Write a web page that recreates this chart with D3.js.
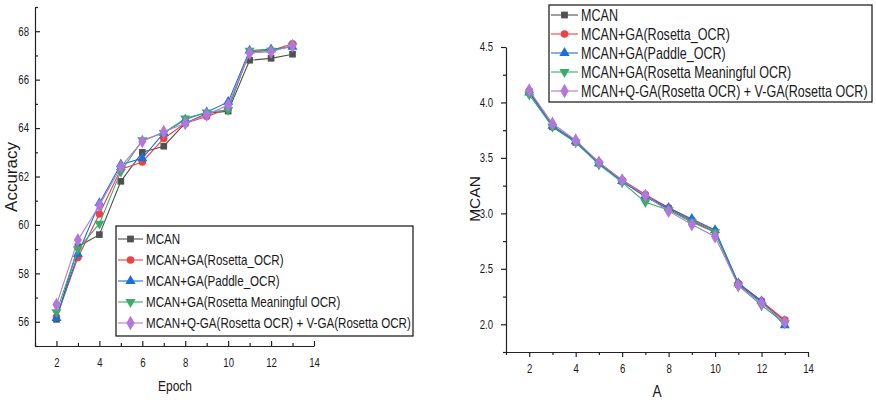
<!DOCTYPE html>
<html>
<head>
<meta charset="utf-8">
<script src="https://cdn.jsdelivr.net/npm/d3@7"></script>
<style>
  body { margin: 0; background: #fff; }
  svg text { fill: #1a1a1a; font-family: "Liberation Sans", Arial, sans-serif; }
</style>
</head>
<body>
<svg id="chart" width="876" height="400"></svg>
<script>
// epochs on the x axis (both panels)
var epochs = [2, 3, 4, 5, 6, 7, 8, 9, 10, 11, 12, 13];

var seriesNames = ["MCAN", "MCAN+GA(Rosetta_OCR)", "MCAN+GA(Paddle_OCR)",
  "MCAN+GA(Rosetta Meaningful OCR)", "MCAN+Q-GA(Rosetta OCR) + V-GA(Rosetta OCR)"];

// left panel: accuracy
var accMcan      = [56.1, 59.1, 59.6, 61.8, 63.0, 63.25, 64.2, 64.6, 64.7, 66.8, 66.88, 67.05];
var accRosetta   = [56.2, 58.65, 60.45, 62.3, 62.6, 63.57, 64.2, 64.48, 64.8, 67.15, 67.2, 67.48];
var accPaddle    = [56.15, 58.8, 60.9, 62.5, 62.75, 63.8, 64.35, 64.65, 65.08, 67.2, 67.25, 67.35];
var accMeaning   = [56.4, 59.0, 60.05, 62.2, 63.5, 63.8, 64.4, 64.65, 64.75, 67.2, 67.2, 67.4];
var accQV        = [56.7, 59.38, 60.8, 62.4, 63.45, 63.85, 64.2, 64.55, 64.95, 67.1, 67.15, 67.4];

// right panel: MCAN loss
var lossMcan     = [4.10, 3.78, 3.64, 3.45, 3.29, 3.15, 3.04, 2.93, 2.83, 2.36, 2.20, 2.03];
var lossRosetta  = [4.10, 3.79, 3.65, 3.46, 3.30, 3.17, 3.05, 2.94, 2.84, 2.37, 2.21, 2.04];
var lossPaddle   = [4.09, 3.79, 3.65, 3.45, 3.29, 3.16, 3.05, 2.95, 2.85, 2.37, 2.21, 1.99];
var lossMeaning  = [4.07, 3.78, 3.64, 3.44, 3.28, 3.10, 3.03, 2.92, 2.83, 2.35, 2.17, 2.01];
var lossQV       = [4.11, 3.81, 3.66, 3.46, 3.30, 3.16, 3.02, 2.90, 2.79, 2.35, 2.19, 2.02];

var xTicks = [2, 4, 6, 8, 10, 12, 14];
var xMinor = [1, 3, 5, 7, 9, 11, 13];
var accTicks = [56, 58, 60, 62, 64, 66, 68];
var accMinor = [55, 57, 59, 61, 63, 65, 67, 69];
var lossTicks = [2.0, 2.5, 3.0, 3.5, 4.0, 4.5];
var lossMinor = [1.75, 2.25, 2.75, 3.25, 3.75, 4.25];

var colors = ["#515151", "#F14040", "#1A6FDF", "#37AD6B", "#B177DE"];
var symbols = [d3.symbolSquare, d3.symbolCircle, d3.symbolTriangle, d3.symbolTriangle, d3.symbolDiamond];
var rotations = [0, 0, 0, 180, 0];

// the figure is squeezed sideways, so horizontal text is drawn condensed
var squeeze = 0.8;

var svg = d3.select("#chart");

function drawPanel(opt) {
  var x = d3.scaleLinear().domain([1, 14]).range([opt.left, opt.right]);
  var y = d3.scaleLinear().domain(opt.yDomain).range([opt.bottom, opt.top]);
  var g = svg.append("g");
  var tickIn = opt.inward ? -5 : 5;
  var minorIn = opt.inward ? -3 : 3;

  // axes
  g.append("g").attr("transform", "translate(0," + opt.bottom + ")")
    .call(d3.axisBottom(x).tickValues(xTicks).tickSizeInner(tickIn).tickSizeOuter(0)
      .tickPadding(opt.inward ? 12 : 7).tickFormat(d3.format("d")));
  g.append("g").attr("transform", "translate(0," + opt.bottom + ")")
    .call(d3.axisBottom(x).tickValues(xMinor).tickSizeInner(minorIn).tickSizeOuter(0).tickFormat(""))
    .select(".domain").remove();
  g.append("g").attr("transform", "translate(" + opt.left + ",0)")
    .call(d3.axisLeft(y).tickValues(opt.yTicks).tickSizeInner(tickIn).tickSizeOuter(0)
      .tickPadding(opt.inward ? 6 : 8).tickFormat(opt.yFormat));
  g.append("g").attr("transform", "translate(" + opt.left + ",0)")
    .call(d3.axisLeft(y).tickValues(opt.yMinor).tickSizeInner(minorIn).tickSizeOuter(0).tickFormat(""))
    .select(".domain").remove();
  g.selectAll(".domain, .tick line").attr("stroke", "#222").attr("stroke-width", 1.2);
  g.selectAll(".tick text")
    .attr("font-family", "Liberation Sans, Arial, sans-serif")
    .attr("font-size", opt.tickFont).attr("fill", "#1a1a1a")
    .each(function() {
      // condense around the tick's own anchor point
      var t = d3.select(this);
      var tx = +t.attr("x") || 0;
      t.attr("x", tx / squeeze).attr("transform", "scale(" + squeeze + ",1)");
    });

  // axis titles
  g.append("text")
    .attr("transform", "translate(" + opt.xTitle[0] + "," + opt.xTitle[1] + ") scale(" + squeeze + ",1)")
    .attr("text-anchor", "middle").attr("font-size", opt.xTitleFont).text(opt.xLabel);
  g.append("text")
    .attr("transform", "translate(" + opt.yTitle[0] + "," + opt.yTitle[1] + ") rotate(-90)")
    .attr("text-anchor", "middle").attr("font-size", opt.yTitleFont).text(opt.yLabel);

  // series
  var line = d3.line().x(function(d) { return x(d[0]); }).y(function(d) { return y(d[1]); });
  opt.series.forEach(function(vals, i) {
    var pts = epochs.map(function(e, j) { return [e, vals[j]]; });
    g.append("path").datum(pts).attr("d", line)
      .attr("fill", "none").attr("stroke", colors[i]).attr("stroke-width", 1.1);
    g.selectAll(".m" + i).data(pts).enter().append("path")
      .attr("d", d3.symbol().type(symbols[i]).size(i === 4 ? 56 : 44))
      .attr("transform", function(d) {
        return "translate(" + x(d[0]) + "," + y(d[1]) + ") rotate(" + rotations[i] + ")";
      })
      .attr("fill", colors[i]);
  });

  // legend
  var L = opt.legend;
  var lg = g.append("g");
  lg.append("rect").attr("x", L.x).attr("y", L.y).attr("width", L.w).attr("height", L.h)
    .attr("fill", "#fff").attr("stroke", "#111").attr("stroke-width", 1.2);
  seriesNames.forEach(function(name, i) {
    var cy = L.y + L.first + i * L.step;
    lg.append("line").attr("x1", L.x + 2).attr("x2", L.x + L.lineLen).attr("y1", cy).attr("y2", cy)
      .attr("stroke", colors[i]).attr("stroke-width", 1.1);
    lg.append("path")
      .attr("d", d3.symbol().type(symbols[i]).size(i === 4 ? 60 : 46))
      .attr("transform", "translate(" + (L.x + 2 + (L.lineLen - 2) / 2) + "," + cy + ") rotate(" + rotations[i] + ")")
      .attr("fill", colors[i]);
    lg.append("text")
      .attr("transform", "translate(" + (L.x + L.lineLen + 3) + "," + cy + ") scale(" + squeeze + ",1)")
      .attr("dy", "0.36em")
      .attr("font-size", L.font).text(name);
  });
}

drawPanel({
  left: 35, right: 314, top: 7, bottom: 346,
  yDomain: [55, 69], yTicks: accTicks, yMinor: accMinor, yFormat: d3.format("d"),
  inward: true, tickFont: 12,
  xLabel: "Epoch", xTitle: [175, 391], xTitleFont: 15,
  yLabel: "Accuracy", yTitle: [17, 177], yTitleFont: 17,
  series: [accMcan, accRosetta, accPaddle, accMeaning, accQV],
  legend: { x: 116, y: 226, w: 297, h: 110, first: 13, step: 21, lineLen: 27, font: 14.5 }
});

drawPanel({
  left: 506, right: 808, top: 47, bottom: 352,
  yDomain: [1.75, 4.5], yTicks: lossTicks, yMinor: lossMinor, yFormat: d3.format(".1f"),
  inward: false, tickFont: 12,
  xLabel: "A", xTitle: [657, 397], xTitleFont: 17,
  yLabel: "MCAN", yTitle: [480, 199], yTitleFont: 15.5,
  series: [lossMcan, lossRosetta, lossPaddle, lossMeaning, lossQV],
  legend: { x: 549, y: 5, w: 323, h: 97, first: 10, step: 19, lineLen: 29, font: 15.7 }
});
</script>
</body>
</html>
